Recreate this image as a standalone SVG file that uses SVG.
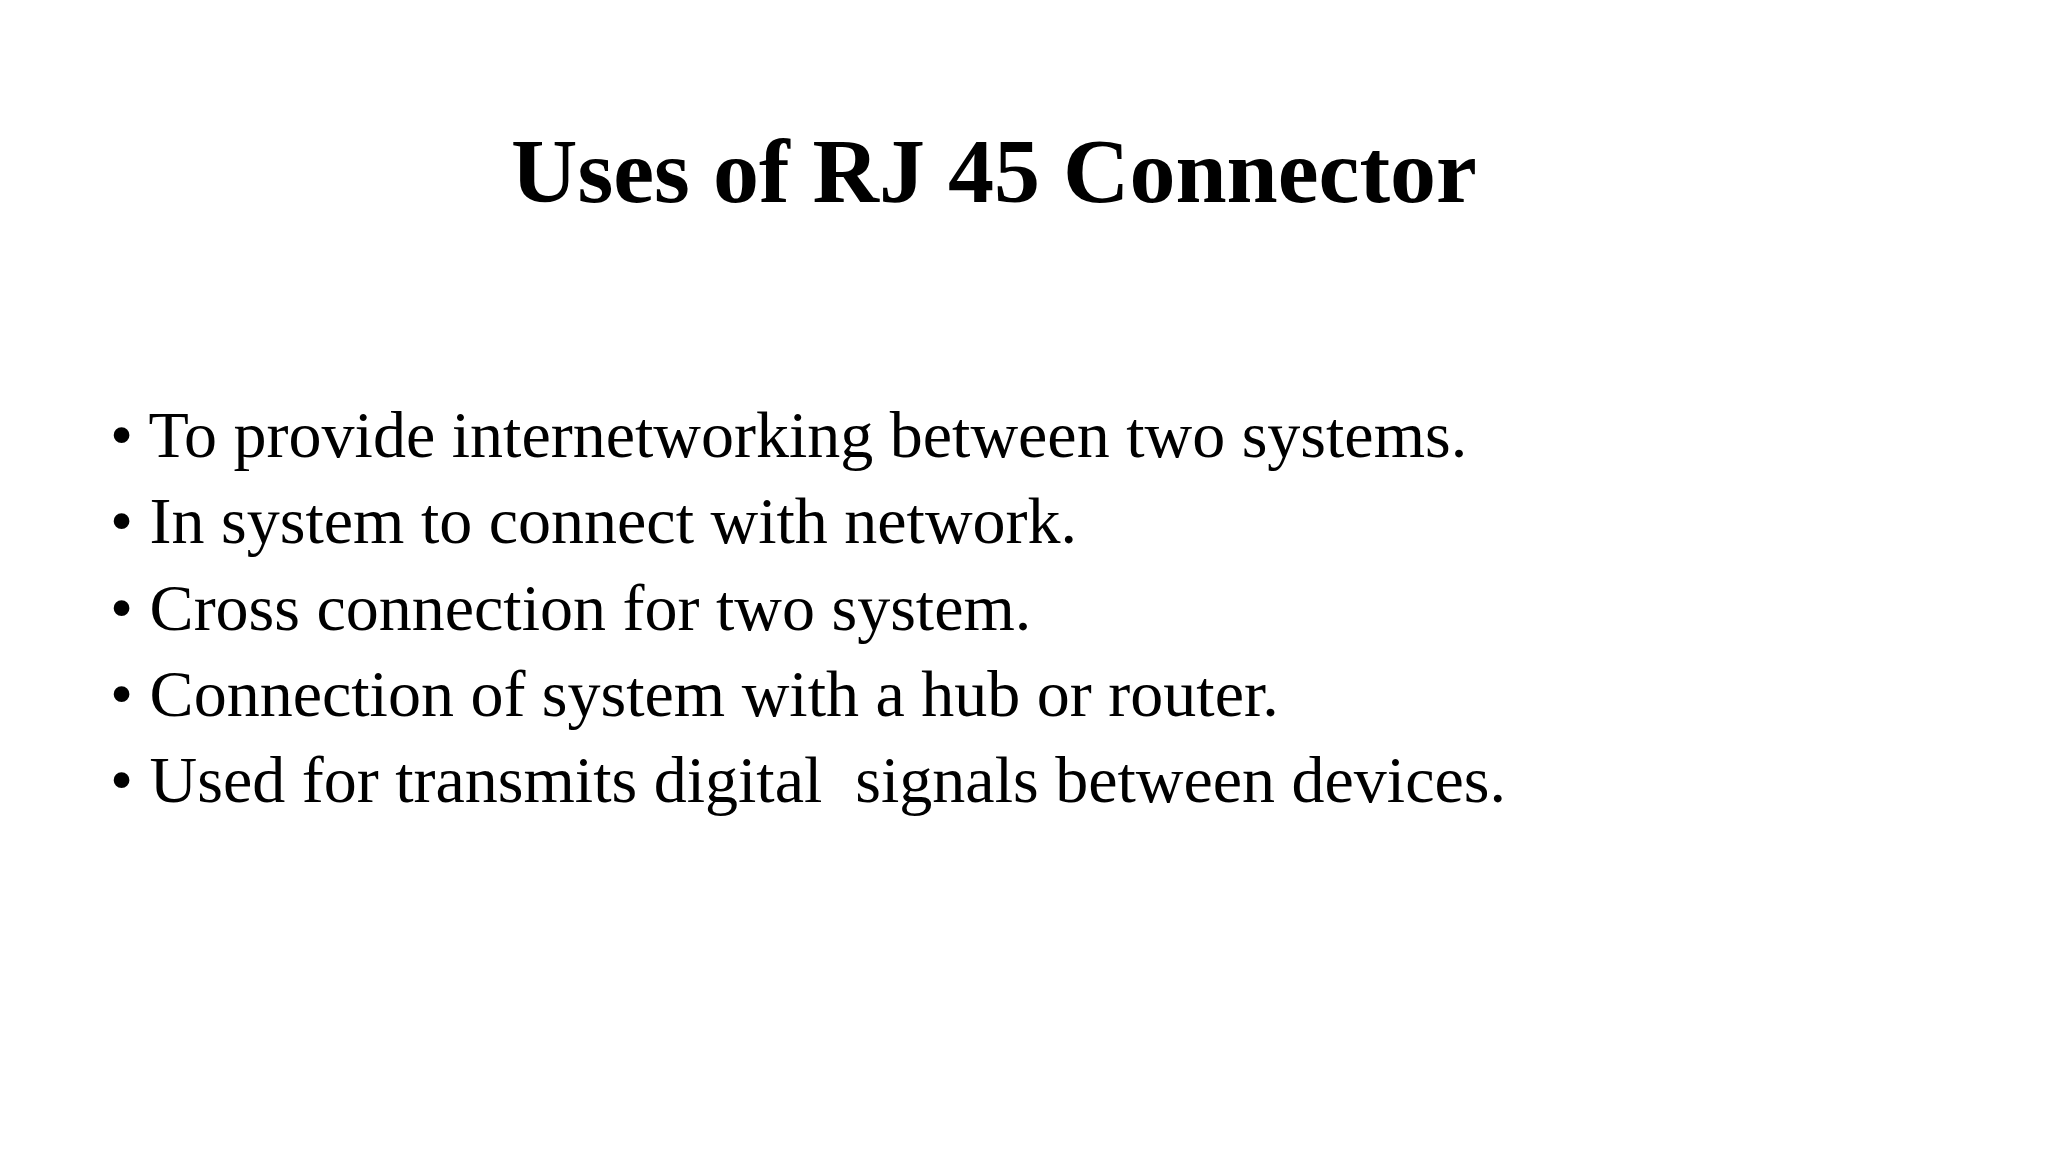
<svg xmlns="http://www.w3.org/2000/svg" width="2048" height="1152" viewBox="0 0 2048 1152">
<style>
.t{font-family:"Liberation Serif","Times New Roman",serif;fill:#000}
.h{font-size:92px;font-weight:bold}
.b{font-size:66px}
</style>
<rect width="2048" height="1152" fill="#fff"/>
<g id="title"><text class="t h" x="511" y="202">Uses of RJ 45 Connector</text></g>
<g id="bullets">
<text class="t b" x="110" y="457">• To provide internetworking between two systems.</text>
<text class="t b" x="110" y="543">• In system to connect with network.</text>
<text class="t b" x="110" y="630">• Cross connection for two system.</text>
<text class="t b" x="110" y="716">• Connection of system with a hub or router.</text>
<text class="t b" x="110" y="802" xml:space="preserve">• Used for transmits digital  signals between devices.</text>
</g>
</svg>
